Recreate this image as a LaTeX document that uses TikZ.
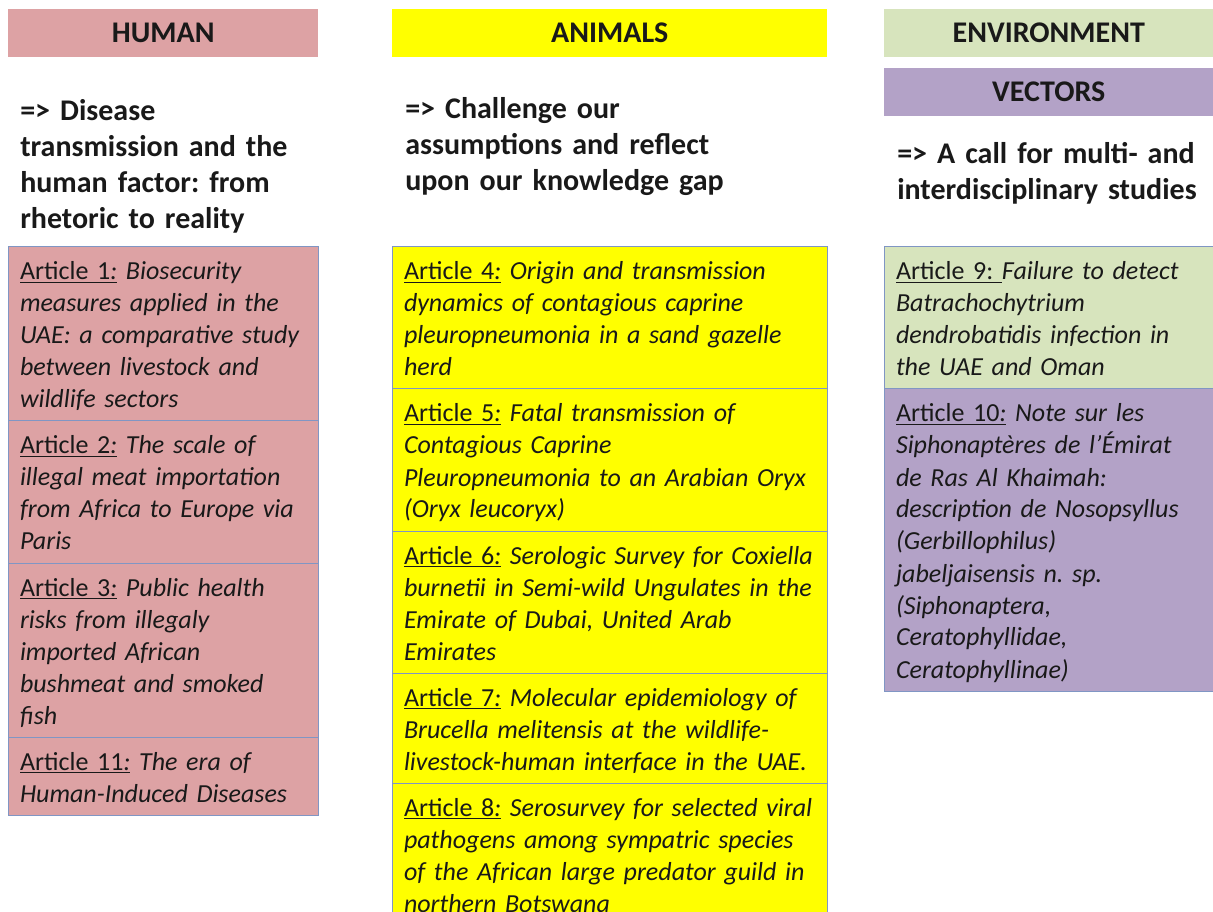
\documentclass[tikz,border=0pt]{standalone}
\usepackage{fontspec}
\setmainfont{Carlito}
\usetikzlibrary{positioning}
\frenchspacing

\definecolor{humanpink}{RGB}{221,162,164}
\definecolor{animalyellow}{RGB}{255,255,0}
\definecolor{envgreen}{RGB}{215,228,189}
\definecolor{vectorpurple}{RGB}{179,162,199}
\definecolor{cellline}{RGB}{128,150,196}
\definecolor{textgray}{RGB}{25,25,25}

\newcommand{\cellstrut}{\rule[-4.5pt]{0pt}{24pt}}
\newcommand{\introstrut}{\rule[-6pt]{0pt}{27pt}}
\newcommand{\artno}[1]{\underline{{\upshape Article #1}:}\ }

\tikzstyle{heading} = [anchor=north west, inner sep=0pt, minimum height=36pt, text=textgray, font=\fontsize{22.5pt}{27pt}\selectfont\bfseries]
\tikzstyle{intro} = [anchor=north west, inner sep=0pt, align=left, text=textgray, font=\fontsize{22.5pt}{27pt}\selectfont\bfseries]
\tikzstyle{article} = [draw=cellline, line width=0.75pt, outer sep=0pt, inner xsep=9pt, inner ysep=5.25pt, align=left, text=textgray, font=\fontsize{19.5pt}{24pt}\selectfont\itshape]

\begin{document}
\begin{tikzpicture}[x=0.75pt, y=-0.75pt]
	\useasboundingbox (0,0) rectangle (1213,912);

	% column heads
	\node[heading, fill=humanpink, minimum width=232.5pt] (human) at (8,9) {HUMAN};
	\node[heading, fill=animalyellow, minimum width=326.25pt] (animals) at (392,9) {ANIMALS};
	\node[heading, fill=envgreen, minimum width=246.75pt] (environment) at (884,9) {ENVIRONMENT};
	\node[heading, fill=vectorpurple, minimum width=246.75pt] (vectors) at (884,68) {VECTORS};

	% what each column stands for
	\node[intro, text width=223.5pt] (humanmsg) at (20,92) {\introstrut=> Disease\\
		transmission and the\\
		human factor: from\\
		rhetoric to reality\introstrut};
	\node[intro, text width=315pt] (animalmsg) at (405,90) {\introstrut=> Challenge our\\
		assumptions and reflect\\
		upon our knowledge gap\introstrut};
	\node[intro, text width=237pt] (envmsg) at (897,135) {\introstrut=> A call for multi- and\\
		interdisciplinary studies\introstrut};

	% human column
	\node[article, fill=humanpink, text width=214.5pt, anchor=north west] (art1) at (8,247) {\cellstrut\artno{1}Biosecurity\\
		measures applied in the\\
		UAE: a comparative study\\
		between livestock and\\
		wildlife sectors\cellstrut};
	\node[article, fill=humanpink, text width=214.5pt, below=0pt of art1] (art2) {\cellstrut\artno{2}The scale of\\
		illegal meat importation\\
		from Africa to Europe via\\
		Paris\cellstrut};
	\node[article, fill=humanpink, text width=214.5pt, below=0pt of art2] (art3) {\cellstrut\artno{3}Public health\\
		risks from illegaly\\
		imported African\\
		bushmeat and smoked\\
		fish\cellstrut};
	\node[article, fill=humanpink, text width=214.5pt, below=0pt of art3] (art11) {\cellstrut\artno{11}The era of\\
		Human-Induced Diseases\cellstrut};

	% animal column
	\node[article, fill=animalyellow, text width=308.25pt, anchor=north west] (art4) at (392,247) {\cellstrut\artno{4}Origin and transmission\\
		dynamics of contagious caprine\\
		pleuropneumonia in a sand gazelle\\
		herd\cellstrut};
	\node[article, fill=animalyellow, text width=308.25pt, below=0pt of art4] (art5) {\cellstrut\artno{5}Fatal transmission of\\
		Contagious Caprine\\
		Pleuropneumonia to an Arabian Oryx\\
		(Oryx leucoryx)\cellstrut};
	\node[article, fill=animalyellow, text width=308.25pt, below=0pt of art5] (art6) {\cellstrut\artno{6}Serologic Survey for Coxiella\\
		burnetii in Semi-wild Ungulates in the\\
		Emirate of Dubai, United Arab\\
		Emirates\cellstrut};
	\node[article, fill=animalyellow, text width=308.25pt, below=0pt of art6] (art7) {\cellstrut\artno{7}Molecular epidemiology of\\
		Brucella melitensis at the wildlife-\\
		livestock-human interface in the UAE.\cellstrut};
	\node[article, fill=animalyellow, text width=308.25pt, below=0pt of art7] (art8) {\cellstrut\artno{8}Serosurvey for selected viral\\
		pathogens among sympatric species\\
		of the African large predator guild in\\
		northern Botswana\cellstrut};

	% environment / vectors column
	\node[article, fill=envgreen, text width=228.75pt, anchor=north west] (art9) at (884,247) {\cellstrut\underline{\upshape Article 9:\ }Failure to detect\\
		Batrachochytrium\\
		dendrobatidis infection in\\
		the UAE and Oman\cellstrut};
	\node[article, fill=vectorpurple, text width=228.75pt, below=0pt of art9] (art10) {\cellstrut\artno{10}Note sur les\\
		Siphonaptères de l’Émirat\\
		de Ras Al Khaimah:\\
		description de Nosopsyllus\\
		(Gerbillophilus)\\
		jabeljaisensis n. sp.\\
		(Siphonaptera,\\
		Ceratophyllidae,\\
		Ceratophyllinae)\cellstrut};
\end{tikzpicture}
\end{document}
